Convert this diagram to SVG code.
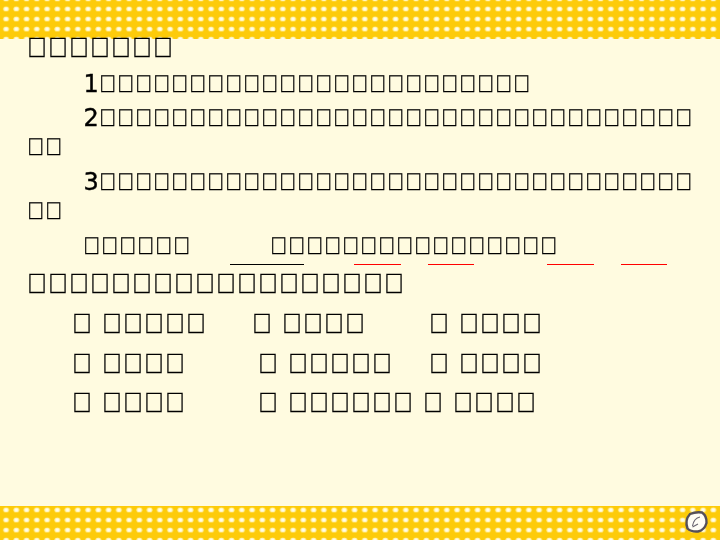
<svg xmlns="http://www.w3.org/2000/svg" width="720" height="540" viewBox="0 0 720 540">
<!-- The reference prints every non-digit character as a missing-glyph box; U+E000 reproduces that box as real text. -->
<style>
text{font-family:"Liberation Sans",sans-serif;fill:#000;stroke:#000;stroke-width:.25px}
text.n{font-family:"DejaVu Sans",sans-serif;font-size:24px;stroke-width:.4px}
.a{font-size:28px}
.b{font-size:24px}
.dot{fill:#fff3b0}.core{fill:#fffdf0}
.rule{stroke-width:1;fill:none}
</style>
<defs>
<filter id="gray" x="0" y="0" width="1" height="1" color-interpolation-filters="sRGB"><feOffset dx="0" dy="0"/></filter>
<g id="d"><ellipse class="dot" cx="5.1" cy="5" rx="2.9" ry="2.4"/><ellipse class="core" cx="5.1" cy="5" rx="1.6" ry="1.3"/></g>
<pattern id="pt" patternUnits="userSpaceOnUse" x="1" y="4" width="10.25" height="10.05"><use href="#d"/></pattern>
<pattern id="pb" patternUnits="userSpaceOnUse" x="1" y="505" width="10.25" height="10.05"><use href="#d"/></pattern>
</defs>
<rect width="720" height="540" fill="#fffbe0"/>
<g id="band-top"><rect width="720" height="39" fill="#fdcb0a"/><rect width="720" height="39" fill="url(#pt)"/></g>
<g id="band-bottom"><rect y="506" width="720" height="34" fill="#fdcb0a"/><rect y="506" width="720" height="34" fill="url(#pb)"/></g>
<g id="text" filter="url(#gray)">
<text class="a" x="26.5" y="57">&#xE000;&#xE000;&#xE000;&#xE000;&#xE000;&#xE000;&#xE000;</text>
<text class="n" x="83.5" y="92">1</text>
<text class="b" x="99" y="92">&#xE000;&#xE000;&#xE000;&#xE000;&#xE000;&#xE000;&#xE000;&#xE000;&#xE000;&#xE000;&#xE000;&#xE000;&#xE000;&#xE000;&#xE000;&#xE000;&#xE000;&#xE000;&#xE000;&#xE000;&#xE000;&#xE000;&#xE000;&#xE000;</text>
<text class="n" x="83.5" y="126">2</text>
<text class="b" x="99" y="126">&#xE000;&#xE000;&#xE000;&#xE000;&#xE000;&#xE000;&#xE000;&#xE000;&#xE000;&#xE000;&#xE000;&#xE000;&#xE000;&#xE000;&#xE000;&#xE000;&#xE000;&#xE000;&#xE000;&#xE000;&#xE000;&#xE000;&#xE000;&#xE000;&#xE000;&#xE000;&#xE000;&#xE000;&#xE000;&#xE000;&#xE000;&#xE000;&#xE000;</text>
<text class="b" x="27" y="155">&#xE000;&#xE000;</text>
<text class="n" x="83.5" y="190">3</text>
<text class="b" x="99" y="190">&#xE000;&#xE000;&#xE000;&#xE000;&#xE000;&#xE000;&#xE000;&#xE000;&#xE000;&#xE000;&#xE000;&#xE000;&#xE000;&#xE000;&#xE000;&#xE000;&#xE000;&#xE000;&#xE000;&#xE000;&#xE000;&#xE000;&#xE000;&#xE000;&#xE000;&#xE000;&#xE000;&#xE000;&#xE000;&#xE000;&#xE000;&#xE000;&#xE000;</text>
<text class="b" x="27" y="219">&#xE000;&#xE000;</text>
<text class="b" x="83" y="254">&#xE000;&#xE000;&#xE000;&#xE000;&#xE000;&#xE000;</text>
<text class="b" x="270" y="254">&#xE000;&#xE000;&#xE000;&#xE000;&#xE000;&#xE000;&#xE000;&#xE000;&#xE000;&#xE000;&#xE000;&#xE000;&#xE000;&#xE000;&#xE000;&#xE000;</text>
<text class="a" x="26.5" y="293">&#xE000;&#xE000;&#xE000;&#xE000;&#xE000;&#xE000;&#xE000;&#xE000;&#xE000;&#xE000;&#xE000;&#xE000;&#xE000;&#xE000;&#xE000;&#xE000;&#xE000;&#xE000;</text>
<text class="a" x="71.5" y="333">&#xE000;</text><text class="a" x="101.5" y="333">&#xE000;&#xE000;&#xE000;&#xE000;&#xE000;</text>
<text class="a" x="251.5" y="333">&#xE000;</text><text class="a" x="281.5" y="333">&#xE000;&#xE000;&#xE000;&#xE000;</text>
<text class="a" x="428.5" y="333">&#xE000;</text><text class="a" x="458.5" y="333">&#xE000;&#xE000;&#xE000;&#xE000;</text>
<text class="a" x="71.5" y="373">&#xE000;</text><text class="a" x="101.5" y="373">&#xE000;&#xE000;&#xE000;&#xE000;</text>
<text class="a" x="257.5" y="373">&#xE000;</text><text class="a" x="287.5" y="373">&#xE000;&#xE000;&#xE000;&#xE000;&#xE000;</text>
<text class="a" x="428.5" y="373">&#xE000;</text><text class="a" x="458.5" y="373">&#xE000;&#xE000;&#xE000;&#xE000;</text>
<text class="a" x="71.5" y="412">&#xE000;</text><text class="a" x="101.5" y="412">&#xE000;&#xE000;&#xE000;&#xE000;</text>
<text class="a" x="257.5" y="412">&#xE000;</text><text class="a" x="287.5" y="412">&#xE000;&#xE000;&#xE000;&#xE000;&#xE000;&#xE000;</text>
<text class="a" x="422.5" y="412">&#xE000;</text><text class="a" x="452.5" y="412">&#xE000;&#xE000;&#xE000;&#xE000;</text>
</g>
<g id="underlines">
<path class="rule" stroke="#000" d="M230 264.5H304"/>
<path class="rule" stroke="#f00" d="M354 264.5H401M428 264.5H474M547 264.5H594M621 264.5H667"/>
</g>
<g id="return-button">
<path d="M690 514Q696 511.5 702 512.5Q707 516 706.5 523Q704.5 530 698 531.5Q691 532 687.5 528.5Q684.5 520 690 514Z" fill="#fffdf5" stroke="#55505a" stroke-width="2.4"/>
<path d="M700 517Q694 518 692.5 526M692.5 527L698 524" fill="none" stroke="#6a6570" stroke-width="1.2"/>
</g>
</svg>
